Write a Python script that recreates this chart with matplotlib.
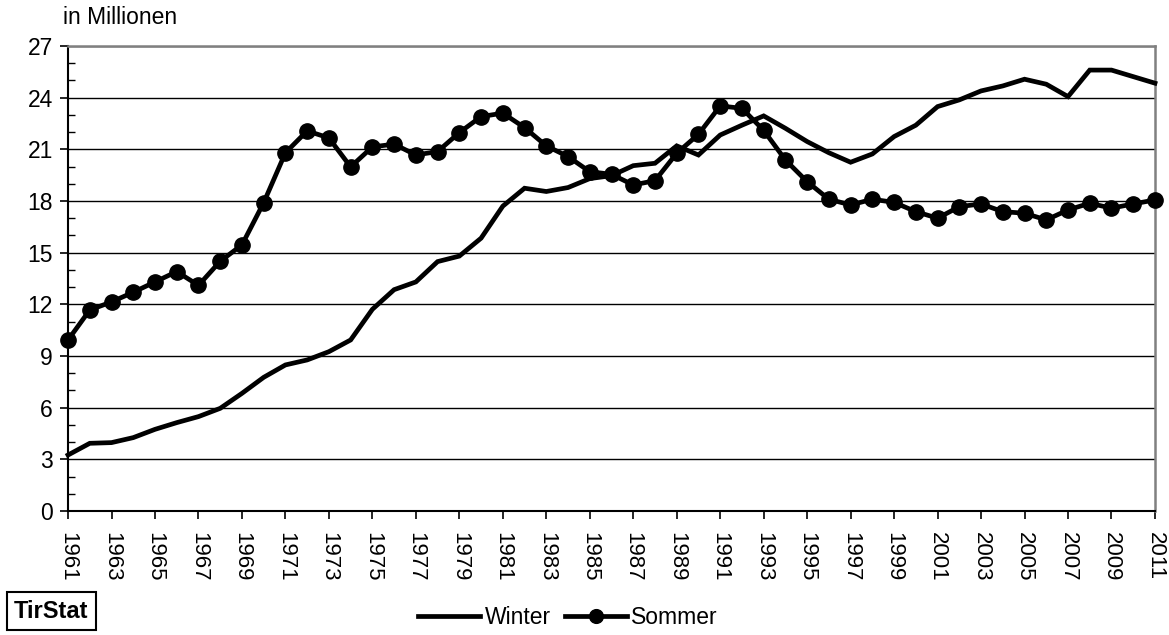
import matplotlib.pyplot as plt
from matplotlib.ticker import MultipleLocator
import numpy as np

plt.rcParams['font.family'] = ['Liberation Sans', 'DejaVu Sans']

years = list(range(1961, 2012))

# Winter season, millions
winter = [3.25, 3.93, 3.97, 4.26, 4.74, 5.13, 5.48, 5.96, 6.83, 7.76,
          8.48, 8.77, 9.25, 9.93, 11.71, 12.85, 13.3, 14.48, 14.8, 15.84,
          17.7, 18.74, 18.55, 18.78, 19.3, 19.47, 20.05, 20.19, 21.2, 20.67,
          21.83, 22.4, 22.94, 22.22, 21.45, 20.8, 20.25, 20.73, 21.74, 22.4,
          23.48, 23.87, 24.39, 24.68, 25.07, 24.78, 24.06, 25.6, 25.6, 25.22,
          24.84]

# Summer season, millions
sommer = [9.93, 11.67, 12.14, 12.7, 13.3, 13.9, 13.1, 14.5, 15.45, 17.9,
          20.8, 22.07, 21.66, 19.98, 21.14, 21.3, 20.67, 20.87, 21.97, 22.9,
          23.1, 22.26, 21.2, 20.58, 19.7, 19.55, 18.93, 19.18, 20.77, 21.87,
          23.52, 23.38, 22.1, 20.38, 19.12, 18.1, 17.77, 18.1, 17.92, 17.38,
          17.0, 17.67, 17.83, 17.38, 17.29, 16.9, 17.48, 17.87, 17.58, 17.83,
          18.06]

xtick_years = list(range(1961, 2012, 2))

fig = plt.figure(figsize=(11.69, 6.35), dpi=100)
ax = fig.add_axes([0.0582, 0.1953, 0.9298, 0.7323])

ax.plot(years, winter, color='black', lw=3.4, label='Winter',
        solid_joinstyle='miter', clip_on=False, zorder=3)
ax.plot(years, sommer, color='black', lw=3.4, marker='o', markersize=11,
        label='Sommer', clip_on=False, zorder=4)

ax.set_xlim(1961, 2011)
ax.set_ylim(0, 27)
ax.yaxis.set_major_locator(MultipleLocator(3))
ax.yaxis.set_minor_locator(MultipleLocator(1))
ax.set_xticks(xtick_years)
ax.set_xticklabels([str(y) for y in xtick_years], rotation=270)

ax.grid(axis='y', color='black', lw=1.0)
ax.set_axisbelow(True)

ax.tick_params(axis='y', which='major', direction='out', length=6, width=1.2,
               labelsize=16.5, pad=5)
ax.tick_params(axis='y', which='minor', direction='in', length=5, width=1.0)
ax.tick_params(axis='x', which='major', direction='out', length=6, width=1.2,
               labelsize=16, pad=9)

ax.spines['left'].set_linewidth(1.5)
ax.spines['bottom'].set_linewidth(1.5)
ax.spines['right'].set_color('#808080')
ax.spines['right'].set_linewidth(1.8)
ax.spines['top'].set_color('#808080')
ax.spines['top'].set_linewidth(1.8)

fig.text(63 / 1169, 1 - 18 / 635, 'in Millionen', fontsize=16.5,
         ha='left', va='center')

fig.text(14 / 1169, 1 - 611 / 635, 'TirStat', fontsize=17, fontweight='bold',
         ha='left', va='center',
         bbox=dict(boxstyle='square,pad=0.3', fc='white', ec='black', lw=1.5))

fig.legend(loc='center', bbox_to_anchor=(568 / 1169, 1 - 618 / 635),
           ncol=2, frameon=False, fontsize=16.5, handlelength=2.7,
           handletextpad=0.2, columnspacing=0.6, markerscale=0.9)

fig.savefig('out.png', dpi=100)
